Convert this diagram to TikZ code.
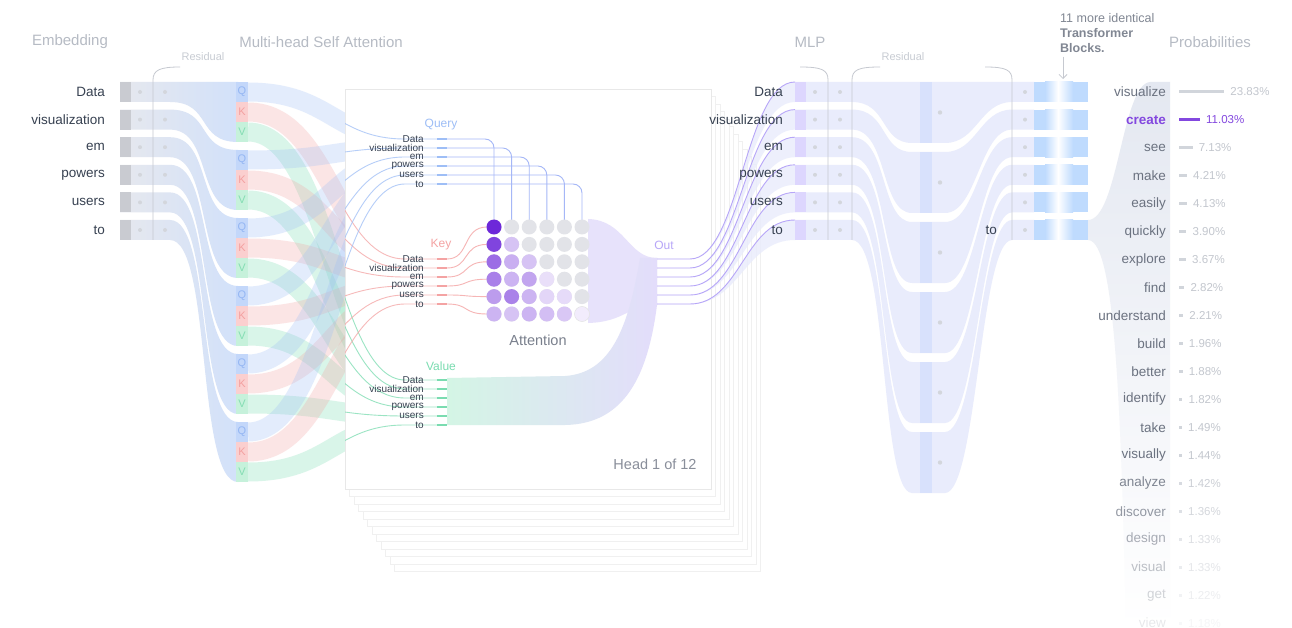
\documentclass[tikz,border=0pt]{standalone}
\usepackage{fontspec}
\setmainfont{Liberation Sans}
\usetikzlibrary{positioning,arrows.meta}
\definecolor{Tinta}{HTML}{374151}
\definecolor{Titulo}{HTML}{B6BBC4}
\definecolor{Tenue}{HTML}{C8CCD3}
\definecolor{Linea}{HTML}{C6C9D0}
\definecolor{Punto}{HTML}{D3D6DC}
\definecolor{Gris}{HTML}{E6E8EE}
\definecolor{GrisOsc}{HTML}{C9CBD1}
\definecolor{AzulBanda}{HTML}{D2E1FA}
\definecolor{AzulQ}{HTML}{9EBEF6}
\definecolor{QBloque}{HTML}{C3D7FA}
\definecolor{QLetra}{HTML}{94B6F3}
\definecolor{RojoK}{HTML}{F4A3A3}
\definecolor{KBloque}{HTML}{FBCFCF}
\definecolor{KLetra}{HTML}{F3A0A0}
\definecolor{VerdeV}{HTML}{7ADCB0}
\definecolor{VBloque}{HTML}{C6F1DB}
\definecolor{VLetra}{HTML}{84DDB3}
\definecolor{VerdeClaro}{HTML}{D4F5E5}
\definecolor{Morado}{HTML}{6D28D9}
\definecolor{Celda}{HTML}{E2E3E8}
\definecolor{Lila}{HTML}{E9ECFC}
\definecolor{LilaOsc}{HTML}{D8E1FC}
\definecolor{Malva}{HTML}{B7A6F8}
\definecolor{MalvaClaro}{HTML}{E3DDFB}
\definecolor{Marca}{HTML}{DDD6FE}
\definecolor{AzulBloque}{HTML}{BFDBFE}
\definecolor{Palabra}{HTML}{6B7280}
\definecolor{Pct}{HTML}{C3C7CE}
\definecolor{BarraG}{HTML}{D1D5DB}
\definecolor{ProbBanda}{HTML}{E4E8F1}

\begin{document}
\begin{tikzpicture}[x=1pt,y=-1pt,
    every node/.style={inner sep=0pt},
    titulo/.style={font=\fontsize{15}{18}\selectfont,text=Titulo},
    token/.style={font=\fontsize{13.5}{16}\selectfont,text=Tinta,anchor=east},
    mini/.style={font=\fontsize{10}{10}\selectfont,text=Tinta,anchor=east},
    residual/.style={font=\fontsize{11}{13}\selectfont,text=Tenue},
    bracket/.style={draw=Linea,line width=0.8pt},
    letra/.style={font=\fontsize{11}{12}\selectfont},
    cabeza/.style={font=\fontsize{12}{14}\selectfont},
    capa/.style={fill=white,draw=black!6,line width=0.6pt},
    palabra/.style={font=\fontsize{13.5}{16}\selectfont,anchor=east},
    pct/.style={font=\fontsize{11.5}{14}\selectfont,anchor=west},
    barra/.style={line width=3pt}
  ]
  \fill[white] (0,0) rectangle (1292,628);
  \useasboundingbox (0,0) rectangle (1292,628);

  % titles
  \node[titulo] (tEmb) at (70,42) {Embedding};
  \node[titulo] (tMha) at (321,42) {Multi-head Self Attention};
  \node[titulo] (tMlp) at (810,42) {MLP};
  \node[titulo] (tProb) at (1210,42) {Probabilities};
  \node[residual] (res1) at (203,57) {Residual};
  \node[residual] (res2) at (903,57) {Residual};

  % embedding rows fanning into the Q/K/V column
  \foreach \i in {0,...,5}{
    \pgfmathsetmacro\ya{82+27.6*\i}
    \pgfmathsetmacro\yb{\ya+20}
    \pgfmathsetmacro\za{82+68*\i}
    \pgfmathsetmacro\zb{\za+60}
    \shade[left color=Gris,middle color=Gris!60!AzulBanda,right color=AzulBanda]
      (120,\ya) -- (170,\ya) .. controls (212,\ya) and (196,\za) .. (238,\za)
      -- (238,\zb) .. controls (196,\zb) and (212,\yb) .. (170,\yb) -- (120,\yb) -- cycle;
    \fill[GrisOsc] (120,\ya) rectangle (131,\yb);
    \fill[Punto] (140,\ya+10) circle (2pt);
    \fill[Punto] (165,\ya+10) circle (2pt);
  }
  \draw[bracket] (153,240) -- (153,80) .. controls (153,70) and (160,67) .. (180,67);
  \foreach \tok [count=\i from 0] in {Data,visualization,em,powers,users,to}
    \node[token] (emb\i) at (105,92+27.6*\i) {\tok};

  % Q/K/V flows towards the head
  \foreach \i in {0,...,5}{
    \pgfmathsetmacro\za{82+68*\i}
    \foreach \k/\kol/\base in {2/VerdeV/380,1/RojoK/259,0/AzulQ/139}{
      \pgfmathsetmacro\yc{\za+10+20*\k}
      \pgfmathsetmacro\yt{\base+9*\i}
      \draw[\kol,line width=19pt,opacity=.28]
        (248,\yc) .. controls (330,\yc) and (335,\yt) .. (405,\yt);
    }
  }
  \foreach \i in {0,...,5}{
    \pgfmathsetmacro\za{82+68*\i}
    \fill[QBloque] (236,\za) rectangle (248,\za+20);
    \fill[KBloque] (236,\za+20) rectangle (248,\za+40);
    \fill[VBloque] (236,\za+40) rectangle (248,\za+60);
    \node[letra,text=QLetra] (q\i) at (242,\za+10) {Q};
    \node[letra,text=KLetra] (k\i) at (242,\za+30) {K};
    \node[letra,text=VLetra] (v\i) at (242,\za+50) {V};
  }

  % stack of heads
  \foreach \k in {11,...,1}
    \filldraw[capa] (345+4.5*\k,89+7.5*\k) rectangle (711+4.5*\k,489+7.5*\k);
  \filldraw[capa,draw=black!9] (345,89) rectangle (711,489);
  \coordinate (cardNW) at (345,89);
  \coordinate (cardSE) at (711,489);

  \begin{scope}
    \clip (cardNW) rectangle (cardSE);
    \foreach \i in {0,...,5}{
      \pgfmathsetmacro\za{82+68*\i}
      \foreach \k/\kol/\base in {2/VerdeV/380,1/RojoK/259,0/AzulQ/139}{
        \pgfmathsetmacro\yc{\za+10+20*\k}
        \pgfmathsetmacro\yt{\base+9*\i}
        \draw[\kol,line width=.9pt,opacity=.75]
          (248,\yc) .. controls (330,\yc) and (335,\yt) .. (405,\yt) -- (437,\yt);
      }
    }
  \end{scope}

  \node[cabeza,text=AzulQ] (lblQuery) at (441,125) {Query};
  \node[cabeza,text=RojoK] (lblKey) at (441,245) {Key};
  \node[cabeza,text=VerdeV] (lblValue) at (441,366) {Value};
  \foreach \tok [count=\i from 0] in {Data,visualization,em,powers,users,to}{
    \node[mini] (tq\i) at (424,139+9*\i) {\tok};
    \node[mini] (tk\i) at (424,259+9*\i) {\tok};
    \node[mini] (tv\i) at (424,380+9*\i) {\tok};
    \draw[AzulQ,line width=1.4pt] (437,139+9*\i) -- (447,139+9*\i);
    \draw[RojoK,line width=1.4pt] (437,259+9*\i) -- (447,259+9*\i);
    \draw[VerdeV,line width=1.4pt] (437,380+9*\i) -- (447,380+9*\i);
    % query to columns, key to rows
    \draw[AzulQ!70!Malva,line width=.9pt,rounded corners=9pt]
      (447,139+9*\i) -- ({494+17.6*\i},139+9*\i) -- ({494+17.6*\i},220);
    \draw[RojoK!80,line width=.9pt]
      (447,259+9*\i) .. controls (470,259+9*\i) and (462,227+17.4*\i) .. (487,227+17.4*\i);
  }

  % attention to out, value to out
  \fill[MalvaClaro,opacity=.85] (588,219) .. controls (625,220) and (628,258) .. (657,258)
    -- (657,305) .. controls (628,305) and (625,322) .. (588,323) -- cycle;
  \shade[left color=VerdeClaro,right color=MalvaClaro]
    (447,378) -- (565,376) .. controls (610,373) and (628,330) .. (640,258) -- (657,258)
    -- (657,305) .. controls (648,375) and (625,424) .. (565,425) -- (447,425) -- cycle;

  % attention matrix
  \foreach \fila in {0,...,5}
    \foreach \colm in {0,...,5}
      \fill[Celda] ({494+17.6*\colm},{227+17.4*\fila}) circle (7.5pt);
  \foreach \fila/\vals in {0/{1},1/{.86,.22},2/{.66,.32,.22},3/{.56,.3,.38,.08},
                           4/{.42,.55,.3,.12,.1},5/{.3,.22,.3,.24,.2,.02}}{
    \foreach \v [count=\colm from 0] in \vals {
      \pgfmathtruncatemacro\pc{8+92*\v}
      \fill[Morado!\pc!white] ({494+17.6*\colm},{227+17.4*\fila}) circle (7.5pt);
    }
  }
  \draw[black!10,line width=.5pt] (582,314) circle (7.5pt);

  \node[font=\fontsize{14.5}{16}\selectfont,text=Palabra!90] (lblAtt) at (538,340) {Attention};
  \node[font=\fontsize{14.5}{16}\selectfont,text=Palabra!80] (lblHead) at (655,464) {Head 1 of 12};
  \node[cabeza,text=Malva] (lblOut) at (664,245) {Out};

  % out to the MLP rows
  \foreach \i in {0,...,5}{
    \pgfmathsetmacro\yo{259+9*\i}
    \pgfmathsetmacro\ya{82+27.6*\i}
    \fill[Lila,opacity=.8] (657,\yo) -- (690,\yo) .. controls (740,\yo) and (745,\ya) .. (795,\ya)
      -- (795,\ya+20) .. controls (745,\ya+20) and (740,\yo) .. (690,\yo) -- cycle;
    \draw[Malva,line width=.9pt] (657,\yo) -- (690,\yo) .. controls (740,\yo) and (745,\ya) .. (795,\ya);
  }

  % MLP
  \foreach \i in {0,...,5}{
    \pgfmathsetmacro\ya{82+27.6*\i}
    \pgfmathsetmacro\yb{\ya+20}
    \pgfmathsetmacro\ua{82+70*\i}
    \pgfmathsetmacro\ub{\ua+61}
    \fill[Lila] (795,\ya) -- (852,\ya) .. controls (888,\ya) and (880,\ua) .. (912,\ua)
      -- (945,\ua) .. controls (977,\ua) and (980,\ya) .. (1012,\ya) -- (1034,\ya)
      -- (1034,\yb) -- (1012,\yb) .. controls (980,\yb) and (977,\ub) .. (945,\ub)
      -- (912,\ub) .. controls (880,\ub) and (888,\yb) .. (852,\yb) -- (795,\yb) -- cycle;
    \fill[LilaOsc] (920,\ua) rectangle (932,\ub);
    \fill[Punto] (940,\ua+30.5) circle (2.2pt);
    \fill[Marca] (795,\ya) rectangle (806,\yb);
    \fill[Punto] (815,\ya+10) circle (2pt);
    \fill[Punto] (840,\ya+10) circle (2pt);
    \fill[Punto] (1025,\ya+10) circle (2pt);
    \fill[AzulBloque] (1034,\ya) rectangle (1045,\yb);
    \shade[left color=AzulBloque,right color=white] (1045,\ya) rectangle (1058,\yb);
    \shade[left color=white,right color=AzulBloque] (1058,\ya) rectangle (1073,\yb);
    \fill[AzulBloque] (1073,\ya) rectangle (1088,\yb);
  }
  \draw[bracket] (828,240) -- (828,80) .. controls (828,70) and (822,67) .. (800,67);
  \draw[bracket] (852,240) -- (852,80) .. controls (852,70) and (858,67) .. (880,67);
  \draw[bracket] (1012,240) -- (1012,80) .. controls (1012,70) and (1006,67) .. (985,67);
  \foreach \tok [count=\i from 0] in {Data,visualization,em,powers,users,to}
    \node[token] (mlp\i) at (783,92+27.6*\i) {\tok};
  \node[token] (salida) at (997,230) {to};

  % probabilities
  \shade[top color=ProbBanda,bottom color=white]
    (1088,220) .. controls (1118,220) and (1122,84) .. (1150,82) -- (1170,82) -- (1170,628)
    -- (1126,628) .. controls (1121,420) and (1116,240) .. (1088,240) -- cycle;
  \foreach \voc/\pv [count=\i from 0] in {visualize/23.83,create/11.03,see/7.13,make/4.21,
      easily/4.13,quickly/3.90,explore/3.67,find/2.82,understand/2.21,build/1.96,better/1.88,
      identify/1.82,take/1.49,visually/1.44,analyze/1.42,discover/1.36,design/1.33,visual/1.33,
      get/1.22,view/1.18}{
    \ifnum\i=1 \def\cw{Morado!85}\def\cb{Morado!85}\def\cp{Morado!85}%
    \else \def\cw{Palabra}\def\cb{BarraG}\def\cp{Pct}\fi
    \pgfmathsetmacro\yy{92+27.95*\i}
    \pgfmathsetmacro\op{min(1,max(.15,1-(\i-13)*.14))}
    \pgfmathsetmacro\len{max(3,1.9*\pv)}
    \node[palabra,text=\cw,text opacity=\op] (w\i) at (1166,\yy) {\ifnum\i=1 \bfseries\fi\voc};
    \draw[barra,draw=\cb,draw opacity=\op] (1179,\yy) -- (1179+\len,\yy);
    \node[pct,text=\cp,text opacity=\op] (p\i) at (1185+\len,\yy) {\pv\%};
  }

  \node[font=\fontsize{12.5}{15}\selectfont,text=Palabra!85,align=left,anchor=north west]
    (bloques) at (1060,13) {11 more identical\\\textbf{Transformer}\\\textbf{Blocks.}};
  \coordinate (flechaFin) at (1063,79);
  \draw[Linea,line width=.8pt,-{Straight Barb[length=4pt]}] ([xshift=3pt,yshift=-4pt]bloques.south west) -- (flechaFin);
\end{tikzpicture}
\end{document}
